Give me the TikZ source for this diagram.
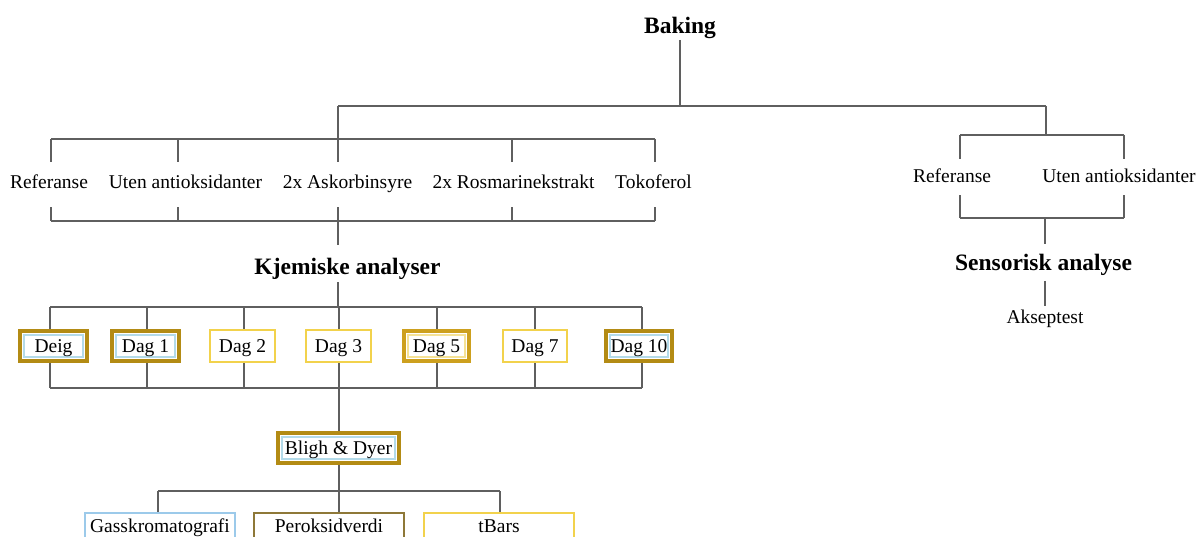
\documentclass[tikz,border=0pt]{standalone}
\usepackage{fontspec}
\setmainfont{Liberation Serif}
\definecolor{ln}{HTML}{5F5F5F}
\definecolor{dgold}{HTML}{B38B14}
\definecolor{mgold}{HTML}{CDA01E}
\definecolor{yel}{HTML}{F2D24C}
\definecolor{lblue}{HTML}{B3DAE9}
\definecolor{sblue}{HTML}{9CCAEA}
\definecolor{olv}{HTML}{8E7838}
\definecolor{lyel}{HTML}{F5E296}
\tikzset{
  conn/.style={draw=ln, line width=1.4pt},
  lab/.style={font=\fontsize{19.5}{22}\selectfont, inner sep=0pt, text height=13pt, text depth=0pt},
  head/.style={font=\fontsize{23.5}{26}\selectfont\bfseries, inner sep=0pt, text height=15.5pt, text depth=0pt},
  boxbase/.style={lab, fill=white, align=center},
  thickA/.style={boxbase, draw=dgold, line width=4pt, minimum height=30pt,
    path picture={\draw[lblue, line width=1.8pt] ([shift={(3.7pt,-3.7pt)}]path picture bounding box.north west) rectangle ([shift={(-3.7pt,3.7pt)}]path picture bounding box.south east);}},
  thickB/.style={boxbase, draw=mgold, line width=4pt, minimum height=30pt,
    path picture={\draw[lyel, line width=1.8pt] ([shift={(3.7pt,-3.7pt)}]path picture bounding box.north west) rectangle ([shift={(-3.7pt,3.7pt)}]path picture bounding box.south east);}},
  thinY/.style={boxbase, draw=yel, line width=2pt, minimum height=32pt},
  botbox/.style={boxbase, line width=2pt, minimum height=32pt, minimum width=150pt, text depth=6pt}
}
\begin{document}
\begin{tikzpicture}[x=1pt,y=-1pt]
\useasboundingbox (0,0) rectangle (1198,537);
\clip (0,0) rectangle (1198,537);

% ---------- top ----------
\node[head] (baking) at (680,26) {Baking};
\coordinate (tl) at (338,106);
\coordinate (tr) at (1046,106);
\draw[conn] ([yshift=-6pt]baking.south) -- (baking.south |- tl);
\draw[conn] (tl) -- (tr);

% ---------- left group ----------
\node[lab] (l1) at (49,182.5) {Referanse};
\node[lab] (l2) at (185.5,182.5) {Uten antioksidanter};
\node[lab] (l3) at (347.5,182.5) {2x Askorbinsyre};
\node[lab] (l4) at (513.5,182.5) {2x Rosmarinekstrakt};
\node[lab] (l5) at (653.5,182.5) {Tokoferol};
\coordinate (lu1) at (51,139);  \coordinate (ld1) at (51,221);
\coordinate (lu2) at (178,139); \coordinate (ld2) at (178,221);
\coordinate (lu3) at (338,139); \coordinate (ld3) at (338,221);
\coordinate (lu4) at (512,139); \coordinate (ld4) at (512,221);
\coordinate (lu5) at (655,139); \coordinate (ld5) at (655,221);
\draw[conn] (tl) -- (lu3);
\draw[conn] (lu1) -- (lu5);
\draw[conn] (ld1) -- (ld5);
\foreach \i in {1,...,5}{
  \draw[conn] (lu\i) -- ++(0,23);
  \draw[conn] (ld\i) -- ++(0,-14);
}

% ---------- Kjemiske analyser ----------
\node[head] (kjem) at (347.5,267) {Kjemiske analyser};
\coordinate (kb) at (339,307);
\draw[conn] (ld3) -- (338,245);
\draw[conn] (338,282) -- (338,307);

\node[thickA, minimum width=67pt] (deig) at (53.5,346) {Deig};
\node[thickA, minimum width=67pt] (d1) at (145.5,346) {Dag 1};
\node[thinY, minimum width=65pt] (d2) at (242.5,346) {Dag 2};
\node[thinY, minimum width=65pt] (d3) at (338.5,346) {Dag 3};
\node[thickB, minimum width=65pt] (d5) at (436.5,346) {Dag 5};
\node[thinY, minimum width=64pt] (d7) at (535,346) {Dag 7};
\node[thickA, minimum width=66pt] (d10) at (639,346) {Dag 10};

\coordinate (kl) at (339,388);
\draw[conn] ([xshift=-3.5pt]deig.north |- kb) -- ([xshift=3pt]d10.north |- kb);
\draw[conn] ([xshift=-3.5pt]deig.south |- kl) -- ([xshift=3pt]d10.south |- kl);
\foreach \n/\s in {deig/-3.5,d1/1.5,d2/1.5,d3/0.5,d5/0.5,d7/0,d10/3}{
  \draw[conn] ([xshift=\s pt]\n.north |- kb) -- ([xshift=\s pt]\n.north);
  \draw[conn] ([xshift=\s pt]\n.south) -- ([xshift=\s pt]\n.south |- kl);
}

% ---------- Bligh & Dyer ----------
\node[thickA, minimum width=121pt] (bligh) at (338.5,448) {Bligh \& Dyer};
\draw[conn] ([xshift=0.5pt]d3.south) -- ([xshift=0.5pt]bligh.north);

\node[botbox, draw=sblue] (gass) at (160,529) {Gasskromatografi};
\node[botbox, draw=olv] (perok) at (329,529) {Peroksidverdi};
\node[botbox, draw=yel, line width=2.4pt] (tbars) at (499,529) {tBars};
\coordinate (bb) at (339,491);
\draw[conn] ([xshift=0.5pt]bligh.south) -- (bb);
\draw[conn] ([xshift=-2pt]gass.north |- bb) -- ([xshift=1pt]tbars.north |- bb);
\draw[conn] ([xshift=-2pt]gass.north |- bb) -- ([xshift=-2pt]gass.north);
\draw[conn] (bb) -- (bb |- perok.north);
\draw[conn] ([xshift=1pt]tbars.north |- bb) -- ([xshift=1pt]tbars.north);

% ---------- right group ----------
\node[lab] (r1) at (952,176) {Referanse};
\node[lab] (r2) at (1119,176) {Uten antioksidanter};
\coordinate (ru1) at (960,135);  \coordinate (rd1) at (960,218);
\coordinate (ru2) at (1124,135); \coordinate (rd2) at (1124,218);
\draw[conn] (tr) -- (1046,135);
\draw[conn] (ru1) -- (ru2);
\draw[conn] (rd1) -- (rd2);
\foreach \i in {1,2}{
  \draw[conn] (ru\i) -- ++(0,24);
  \draw[conn] (rd\i) -- ++(0,-23);
}
\node[head] (sens) at (1043.5,263) {Sensorisk analyse};
\node[lab] (aks) at (1045,316.5) {Akseptest};
\draw[conn] (1045,218) -- ([yshift=11pt]sens.north -| 1045,0);
\draw[conn] ([yshift=-10pt]sens.south -| 1045,0) -- ([yshift=4pt]aks.north -| 1045,0);
\end{tikzpicture}
\end{document}
